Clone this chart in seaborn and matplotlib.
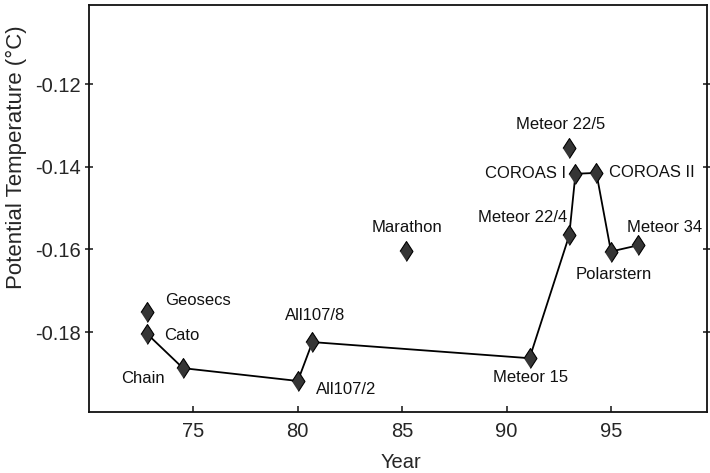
import numpy as np
import pandas as pd
import matplotlib
matplotlib.use("Agg")
import matplotlib.pyplot as plt
import seaborn as sns

###################################################################
# data
###################################################################

cruises = ['Geosecs', 'Cato', 'Chain', 'All107/2', 'All107/8', 'Marathon',
           'Meteor 15', 'Meteor 22/4', 'Meteor 22/5', 'COROAS I',
           'COROAS II', 'Polarstern', 'Meteor 34']
years = [72.8, 72.8, 74.5, 80.0, 80.7, 85.2,
         91.1, 93.0, 93.0, 93.3, 94.3, 95.0, 96.3]
temps = [-0.1752, -0.1805, -0.1887, -0.1918, -0.1824, -0.1603,
         -0.1863, -0.1566, -0.1354, -0.1417, -0.1415, -0.1605, -0.1590]
# cruises joined by the line, in order
line_order = ['Cato', 'Chain', 'All107/2', 'All107/8', 'Meteor 15',
              'Meteor 22/4', 'COROAS I', 'COROAS II', 'Polarstern', 'Meteor 34']

x_ticks = [75, 80, 85, 90, 95]
y_ticks = [-0.18, -0.16, -0.14, -0.12]

df = pd.DataFrame({'cruise': cruises, 'year': years, 'temp': temps})
df_line = df.set_index('cruise').loc[line_order].reset_index()

# label placement (offset in pixels from the point, alignment)
label_pos = {
    'Geosecs':     (18, 12, 'left'),
    'Cato':        (17, -1, 'left'),
    'Chain':       (-18, -10, 'right'),
    'All107/2':    (18, -9, 'left'),
    'All107/8':    (3, 27, 'center'),
    'Marathon':    (1, 23, 'center'),
    'Meteor 15':   (1, -19, 'center'),
    'Meteor 22/4': (-2, 18, 'right'),
    'Meteor 22/5': (-9, 23, 'center'),
    'COROAS I':    (-9, 0, 'right'),
    'COROAS II':   (13, 0, 'left'),
    'Polarstern':  (3, -23, 'center'),
    'Meteor 34':   (26, 18, 'center'),
}

###################################################################
# plot
###################################################################

sns.set_style('ticks')
plt.rcParams['font.family'] = ['Liberation Sans', 'DejaVu Sans']

fig = plt.figure(figsize=(7.1, 4.73), dpi=100)
ax = fig.add_axes([0.1254, 0.129, 0.8704, 0.8604])

sns.lineplot(data=df_line, x='year', y='temp', sort=False, color='black',
             linewidth=1.3, ax=ax, zorder=2)

diamond = [(-0.65, 0), (0, 1), (0.65, 0), (0, -1)]
sns.scatterplot(data=df, x='year', y='temp', marker=diamond, s=205,
                color='#353535', edgecolor='black', linewidth=0.8,
                ax=ax, zorder=3)

for name, x, y in zip(cruises, years, temps):
    dx, dy, ha = label_pos[name]
    ax.annotate(name, (x, y), xytext=(dx, dy), textcoords='offset pixels',
                ha=ha, va='center', fontsize=12, color='#111111')

ax.set_xlim(70, 99.6)
ax.set_ylim(-0.1993, -0.1009)
ax.set_xticks(x_ticks)
ax.set_yticks(y_ticks)
ax.set_yticklabels([f'{v:.2f}' for v in y_ticks])
ax.set_xlabel('Year', fontsize=14.5)
ax.set_ylabel('Potential Temperature (°C)', fontsize=16)
ax.xaxis.set_label_coords(0.505, -0.1)
ax.yaxis.set_label_coords(-0.100, 0.627)

ax.tick_params(axis='x', direction='in', length=4, width=1.2,
               labelsize=14.5, pad=7)
ax.tick_params(axis='y', direction='inout', length=6, width=1.2,
               labelsize=14.5, pad=3, left=True, right=True)
for sp in ax.spines.values():
    sp.set_visible(True)
    sp.set_linewidth(1.3)
    sp.set_color('#111111')

fig.savefig('out.png', dpi=100)
